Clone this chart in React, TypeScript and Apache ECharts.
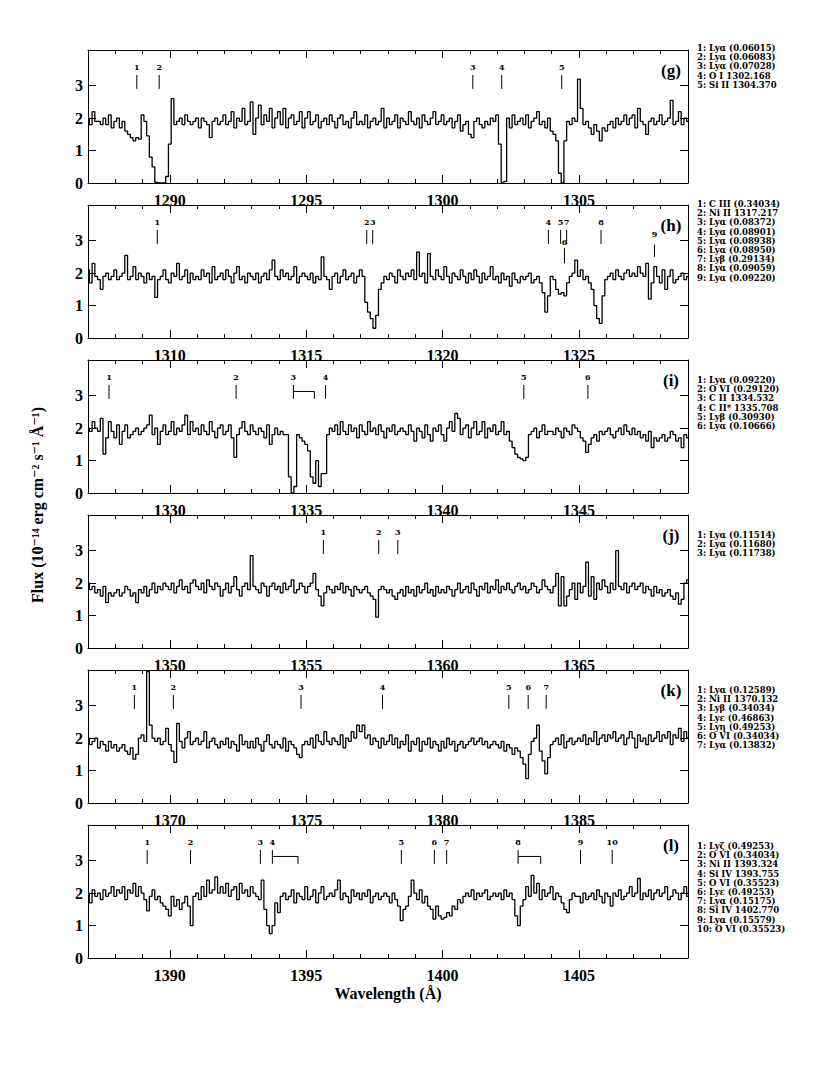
import React, { useEffect, useRef } from 'react';
import * as echarts from 'echarts';

// ---------------- DATA ----------------
const FLUX_START = 1287.0;
const FLUX_STEP = 0.1;
const PANEL_STARTS = [1287, 1307, 1327, 1347, 1367, 1387];
const PANEL_SPAN = 22;
const PANEL_TAGS = ['(g)', '(h)', '(i)', '(j)', '(k)', '(l)'];
const Y_TICKS = [0, 1, 2, 3];

// flux, 1287.0 - 1306.9 A
const FLUX_G = [
  2.0,1.8,2.2,1.9,1.9,1.8,2.0,1.8,2.1,1.7,
  1.9,2.0,1.7,1.9,1.6,1.5,1.4,1.3,1.4,1.35,
  2.1,1.9,1.45,0.8,0.5,0.02,0,0,0,0.2,
  1.2,2.6,1.8,1.9,2.0,1.8,2.1,1.9,1.8,1.9,
  2.0,1.7,2.0,1.9,1.8,1.4,1.9,2.0,1.8,1.9,
  2.1,1.8,1.9,2.2,1.7,2.0,1.9,2.3,1.8,1.9,
  2.5,1.5,2.0,2.4,1.8,2.1,1.9,2.3,1.7,2.0,
  2.2,1.8,2.3,1.7,2.0,2.1,1.8,1.9,2.2,1.7,
  2.0,2.2,1.8,1.9,2.1,1.7,1.9,2.0,1.8,2.1,
  1.9,1.7,2.0,2.1,1.8,1.9,1.7,2.0,2.2,1.8,
  1.9,1.8,2.1,1.7,1.9,2.0,1.8,1.9,2.3,1.7,
  2.0,1.8,1.9,2.1,1.7,2.0,1.9,1.8,2.2,1.9,
  1.8,2.0,1.7,2.1,1.9,1.8,2.0,2.2,1.8,1.9,
  2.1,1.8,1.9,2.0,1.7,1.9,2.1,1.6,1.8,1.9,
  1.5,1.4,1.9,2.0,1.8,1.7,1.9,1.8,2.0,1.9,
  2.1,1.2,0,0.05,2.0,1.7,2.1,1.8,1.9,2.0,
  1.8,2.1,1.7,1.9,2.0,2.2,1.8,1.9,1.7,2.0,
  1.6,1.5,1.3,0.3,0,1.3,1.9,1.8,2.0,1.9,
  3.2,2.3,1.8,1.9,1.7,1.5,1.8,1.6,1.3,1.7,
  1.6,1.8,1.9,1.7,2.0,1.8,1.9,2.1,1.8,2.0,
];
// flux, 1307.0 - 1326.9 A
const FLUX_H = [
  2.1,1.7,2.3,1.9,1.8,1.5,1.9,2.0,1.8,1.9,
  2.1,1.8,1.9,2.0,2.55,1.8,1.9,2.2,1.8,2.0,
  1.9,1.7,2.0,1.8,1.9,1.25,1.8,1.9,2.1,1.8,
  1.7,2.0,1.9,2.3,1.8,1.9,2.1,1.7,2.0,1.8,
  1.9,1.8,2.1,1.9,2.0,1.7,2.2,1.8,1.9,2.0,
  1.8,2.1,1.9,1.7,2.0,2.2,1.8,1.9,1.7,2.0,
  1.9,1.8,2.0,1.7,1.9,2.0,1.8,2.1,2.4,1.9,
  1.8,2.1,1.9,2.0,1.8,1.9,2.2,1.7,1.9,2.0,
  1.9,1.8,2.0,1.7,1.9,1.8,2.5,1.9,1.8,1.5,
  1.9,2.0,1.7,1.9,2.1,1.8,1.9,2.0,1.7,1.9,
  2.1,1.9,1.1,0.8,0.6,0.3,0.7,1.5,1.7,1.9,
  1.8,2.0,1.9,1.7,2.1,1.9,1.8,2.0,1.9,2.1,
  1.8,2.65,1.9,2.0,1.7,2.6,1.9,1.8,2.1,1.9,
  1.8,2.2,1.9,1.7,2.0,1.9,1.8,2.1,1.9,1.7,
  2.0,1.8,2.1,1.9,1.7,2.0,1.8,1.9,2.2,1.8,
  1.9,1.7,2.0,1.8,1.9,1.6,2.0,1.8,1.7,1.9,
  1.8,1.9,2.0,1.7,1.8,1.9,1.7,1.4,0.8,1.3,
  1.9,1.8,1.5,1.35,1.4,1.3,1.7,1.9,2.0,2.4,
  1.9,2.1,1.8,1.9,1.7,1.5,1.0,0.6,0.45,1.3,
  1.8,1.9,2.0,1.8,2.1,1.9,1.8,2.0,2.1,1.9,
];
// flux, 1327.0 - 1346.9 A
const FLUX_I = [
  2.0,1.9,2.2,2.0,1.9,2.3,1.2,1.7,2.2,1.9,
  1.7,2.1,1.5,1.9,2.1,1.7,1.8,1.9,2.0,1.8,
  1.9,2.0,2.1,2.4,1.8,2.0,1.5,1.9,2.1,1.8,
  1.9,2.2,1.8,2.0,1.9,2.1,2.4,1.8,2.2,1.9,
  2.0,1.8,2.1,1.9,1.8,2.2,1.9,1.7,2.0,2.1,
  1.8,1.9,2.1,1.7,1.1,1.8,2.0,2.2,1.9,1.8,
  2.1,1.9,1.8,2.0,1.9,1.7,2.1,1.5,1.8,2.0,
  1.8,1.9,1.8,1.8,0.5,0,0.2,1.8,1.7,1.6,
  1.5,1.3,0.5,0.3,1.0,0.2,0.6,0.6,1.8,2.0,
  1.9,2.1,1.8,2.2,1.9,1.8,2.1,1.9,2.0,1.7,
  2.1,1.9,1.8,2.2,1.9,2.0,1.8,2.1,1.9,1.7,
  2.0,1.9,2.1,1.8,1.9,2.0,1.9,1.8,2.1,1.9,
  1.6,2.0,1.9,1.7,2.1,1.8,1.6,2.0,1.9,2.1,
  1.8,1.6,2.0,2.2,1.9,2.45,2.3,1.8,2.0,2.1,
  1.7,2.0,2.2,1.8,1.9,2.2,1.7,2.0,1.9,2.1,
  1.8,1.9,2.2,1.8,1.9,1.6,1.4,1.2,1.1,1.05,
  1.0,1.1,1.8,1.9,2.0,1.7,1.9,2.1,1.8,1.9,
  1.9,1.8,2.0,1.9,1.7,2.0,1.9,1.8,2.1,2.0,
  1.9,1.7,1.6,1.25,1.5,1.7,1.8,1.6,1.9,1.8,
  1.9,2.0,1.8,1.7,1.9,2.0,1.8,2.1,1.9,1.8,
];
// flux, 1347.0 - 1366.9 A
const FLUX_J = [
  2.0,1.8,1.9,1.7,1.8,1.6,1.9,1.4,1.7,1.6,
  1.7,1.8,1.6,1.7,1.9,1.8,1.6,1.7,1.4,1.8,
  1.7,1.9,1.6,1.8,2.0,1.7,1.9,1.8,2.0,1.9,
  1.8,2.0,1.7,1.9,2.1,1.8,1.9,1.7,2.0,2.1,
  1.9,1.8,2.0,1.7,2.1,1.9,1.8,2.0,1.9,1.6,
  1.8,2.0,1.7,1.9,2.2,1.8,1.6,1.9,2.0,1.8,
  2.85,1.9,1.8,1.7,2.0,1.9,1.6,1.9,2.0,1.8,
  1.9,1.7,2.0,1.8,1.9,2.1,1.7,1.8,2.0,1.9,
  1.7,1.9,2.0,2.3,1.8,1.6,1.3,1.7,1.9,1.8,
  1.7,1.9,1.8,2.0,1.7,1.9,1.8,1.6,1.9,1.8,
  1.7,1.8,1.9,1.7,1.6,1.5,0.95,1.8,1.9,1.8,
  1.7,1.8,1.6,1.5,1.7,1.8,1.6,1.9,1.7,1.8,
  1.6,1.9,1.7,1.8,2.0,1.7,1.8,1.6,1.9,1.7,
  1.8,1.7,1.9,1.8,1.6,1.8,2.0,1.7,1.8,1.9,
  1.7,2.0,1.8,1.6,1.9,1.8,2.0,1.7,1.9,1.8,
  2.1,1.7,1.9,1.8,2.0,1.8,1.7,1.9,2.0,1.8,
  1.9,1.7,1.8,2.0,1.9,1.7,1.8,2.1,1.9,1.8,
  1.7,1.9,2.3,1.3,2.2,1.3,1.6,1.8,2.0,1.5,
  2.0,1.7,1.9,2.65,1.6,2.2,1.5,2.0,1.8,2.1,
  1.9,1.7,2.0,1.8,3.0,1.9,1.8,2.0,1.7,1.9,
];
// flux, 1367.0 - 1386.9 A
const FLUX_K = [
  2.0,1.8,1.9,2.0,1.7,1.9,1.8,1.6,1.9,1.7,
  1.8,1.6,1.7,1.8,1.6,1.5,1.7,1.35,1.5,2.0,
  2.1,1.9,4.05,2.4,2.0,1.9,2.0,1.8,1.9,2.3,
  1.8,1.6,1.25,2.45,1.9,1.7,2.0,2.2,1.8,1.9,
  2.0,1.8,1.9,2.2,1.7,1.9,2.0,1.8,1.7,1.9,
  1.8,2.0,1.7,1.9,1.8,1.6,2.1,1.8,1.9,1.7,
  1.9,1.7,2.0,1.8,1.6,1.9,2.1,1.8,1.7,1.9,
  1.8,1.7,2.0,1.6,1.9,1.8,1.7,1.5,1.4,1.8,
  1.9,1.8,2.0,1.7,2.1,1.9,1.8,2.2,1.9,1.8,
  2.0,1.9,1.8,2.1,1.7,2.0,1.9,2.2,2.0,2.4,
  2.2,2.4,2.0,2.1,1.8,2.0,1.9,1.7,2.0,1.8,
  1.9,2.1,1.8,2.0,1.7,1.9,1.8,2.1,1.6,1.9,
  1.8,2.0,1.6,1.9,1.8,2.0,1.7,1.9,1.8,1.6,
  1.9,1.7,2.0,1.8,1.9,1.6,1.8,1.9,1.7,1.8,
  1.9,2.0,1.8,1.9,2.0,1.8,1.9,1.7,1.8,1.9,
  1.8,1.7,1.9,1.6,1.8,1.7,1.5,1.7,1.6,1.4,
  1.2,0.75,1.5,1.9,2.0,2.4,1.6,1.3,0.9,1.4,
  1.8,1.9,2.0,1.8,2.1,1.7,1.9,2.0,1.8,1.9,
  2.0,1.9,2.1,1.8,2.0,1.9,2.2,1.8,2.0,2.1,
  1.9,2.1,2.0,2.2,1.9,2.0,2.1,1.8,2.0,2.2,
];
// flux, 1387.0 - 1409.0 A
const FLUX_L = [
  2.0,1.7,2.1,1.9,2.0,1.8,2.1,1.9,2.0,2.2,
  1.9,2.1,2.0,2.2,1.8,2.1,2.0,2.3,1.9,2.2,
  2.0,1.8,1.45,1.9,2.1,1.8,1.9,1.7,1.6,1.5,
  1.3,1.9,1.6,1.8,1.5,1.7,1.9,1.6,1.0,1.9,
  2.0,1.8,2.2,1.9,2.4,2.0,2.1,2.5,2.0,2.2,
  2.0,2.3,1.9,2.1,2.2,1.8,2.3,2.0,2.1,1.9,
  2.2,2.0,1.9,1.8,2.4,1.5,1.0,0.75,1.0,1.7,
  1.4,1.9,2.0,1.8,1.9,2.1,1.7,2.0,1.9,1.8,
  2.2,1.8,1.9,2.1,1.7,2.0,2.2,1.8,1.9,2.0,
  1.9,2.1,2.4,1.8,2.0,1.9,1.7,2.1,1.9,2.0,
  1.8,2.0,1.9,2.1,1.7,1.9,2.0,1.8,1.9,2.0,
  1.9,1.7,2.0,1.8,1.6,1.15,1.5,1.6,1.9,2.4,
  2.0,1.8,2.1,1.7,1.9,1.6,1.5,1.2,1.6,1.3,
  1.2,1.25,1.4,1.3,1.6,1.5,1.8,1.7,1.9,2.0,
  1.9,2.1,1.8,2.0,1.9,2.0,2.1,1.8,1.9,2.0,
  1.9,2.0,1.8,2.1,1.9,2.0,1.8,1.3,1.0,1.6,
  1.8,2.2,1.9,2.55,2.0,2.3,1.8,2.1,1.9,2.0,
  2.2,1.8,2.0,1.9,1.7,1.5,1.4,1.8,2.0,1.9,
  1.9,1.7,2.0,1.8,1.9,2.0,1.8,2.1,1.9,1.7,
  2.0,1.9,1.6,2.0,1.9,2.1,1.8,1.9,2.0,2.2,
  1.9,2.0,2.45,1.8,2.0,1.9,2.1,1.8,2.0,2.1,
  1.9,2.0,2.2,1.8,1.9,2.1,2.0,1.8,2.0,2.2,
  1.9,
];

// line identifications: wavelength, label, optional bracket end, optional placement
type Marker = { w: number; n: string; to?: number; pos?: 'low' | 'mid' };
const MARKERS_G: Marker[] = [
  { w: 1288.79, n: '1' }, { w: 1289.61, n: '2' }, { w: 1301.11, n: '3' },
  { w: 1302.17, n: '4' }, { w: 1304.37, n: '5' },
];
const MARKERS_H: Marker[] = [
  { w: 1309.54, n: '1' }, { w: 1317.22, n: '2' }, { w: 1317.44, n: '3' },
  { w: 1323.88, n: '4' }, { w: 1324.33, n: '5' }, { w: 1324.47, n: '6', pos: 'low' },
  { w: 1324.55, n: '7' }, { w: 1325.81, n: '8' }, { w: 1327.77, n: '9', pos: 'mid' },
];
const MARKERS_I: Marker[] = [
  { w: 1327.77, n: '1' }, { w: 1332.43, n: '2' }, { w: 1334.53, n: '3', to: 1335.3 },
  { w: 1335.71, n: '4' }, { w: 1342.98, n: '5' }, { w: 1345.33, n: '6' },
];
const MARKERS_J: Marker[] = [
  { w: 1355.63, n: '1' }, { w: 1357.66, n: '2' }, { w: 1358.36, n: '3' },
];
const MARKERS_K: Marker[] = [
  { w: 1368.70, n: '1' }, { w: 1370.13, n: '2' }, { w: 1374.81, n: '3' },
  { w: 1377.80, n: '4' }, { w: 1382.43, n: '5' }, { w: 1383.14, n: '6' },
  { w: 1383.80, n: '7' },
];
const MARKERS_L: Marker[] = [
  { w: 1389.17, n: '1' }, { w: 1390.76, n: '2' }, { w: 1393.32, n: '3' },
  { w: 1393.76, n: '4', to: 1394.7 }, { w: 1398.49, n: '5' }, { w: 1399.70, n: '6' },
  { w: 1400.15, n: '7' }, { w: 1402.77, n: '8', to: 1403.6 }, { w: 1405.06, n: '9' },
  { w: 1406.22, n: '10' },
];

const LEGEND_G = ['1: Lyα (0.06015)', '2: Lyα (0.06083)', '3: Lyα (0.07028)', '4: O I 1302.168', '5: Si II 1304.370'];
const LEGEND_H = ['1: C III (0.34034)', '2: Ni II 1317.217', '3: Lyα (0.08372)', '4: Lyα (0.08901)', '5: Lyα (0.08938)', '6: Lyα (0.08950)', '7: Lyβ (0.29134)', '8: Lyα (0.09059)', '9: Lyα (0.09220)'];
const LEGEND_I = ['1: Lyα (0.09220)', '2: O VI (0.29120)', '3: C II 1334.532', '4: C II* 1335.708', '5: Lyβ (0.30930)', '6: Lyα (0.10666)'];
const LEGEND_J = ['1: Lyα (0.11514)', '2: Lyα (0.11680)', '3: Lyα (0.11738)'];
const LEGEND_K = ['1: Lyα (0.12589)', '2: Ni II 1370.132', '3: Lyβ (0.34034)', '4: Lyε (0.46863)', '5: Lyη (0.49253)', '6: O VI (0.34034)', '7: Lyα (0.13832)'];
const LEGEND_L = ['1: Lyζ (0.49253)', '2: O VI (0.34034)', '3: Ni II 1393.324', '4: Si IV 1393.755', '5: O VI (0.35523)', '6: Lyε (0.49253)', '7: Lyα (0.15175)', '8: Si IV 1402.770', '9: Lyα (0.15579)', '10: O VI (0.35523)'];

const MARKERS = [MARKERS_G, MARKERS_H, MARKERS_I, MARKERS_J, MARKERS_K, MARKERS_L];
const LEGENDS = [LEGEND_G, LEGEND_H, LEGEND_I, LEGEND_J, LEGEND_K, LEGEND_L];

// ---------------- LAYOUT ----------------
const W = 830;
const H = 1067;
const GRID_LEFT = 88;
const GRID_WIDTH = 600;
const GRID_TOP0 = 50;
const GRID_PITCH = 155;
const GRID_HEIGHT = 133;
const Y_MAX = 4.1;
const LEGEND_TOPS = [48, 204, 380, 535, 690, 846];
const LEGEND_LINE = 9.2;
const SERIF = '"Liberation Serif", "DejaVu Serif", serif';
const SMALL = '"DejaVu Serif", serif';

function buildOption() {
  const ALL = [...FLUX_G, ...FLUX_H, ...FLUX_I, ...FLUX_J, ...FLUX_K, ...FLUX_L];
  const grid: any[] = [];
  const xAxis: any[] = [];
  const yAxis: any[] = [];
  const series: any[] = [];
  const graphic: any[] = [];
  const black = '#000';

  PANEL_STARTS.forEach((s, k) => {
    const top = GRID_TOP0 + GRID_PITCH * k;
    grid.push({ left: GRID_LEFT, width: GRID_WIDTH, top, height: GRID_HEIGHT });
    const min = s;
    const max = s + PANEL_SPAN;
    const majors: number[] = [];
    for (let v = Math.ceil(min / 5) * 5; v <= max; v += 5) majors.push(v);
    const base = { gridIndex: k, type: 'value', min, max, splitLine: { show: false } };
    // bottom minor
    xAxis.push({ ...base, position: 'bottom', interval: 1,
      axisLine: { show: true, onZero: false, lineStyle: { color: black, width: 1 } },
      axisTick: { show: true, inside: true, length: 4, lineStyle: { color: black, width: 1 } },
      axisLabel: { show: false } });
    // bottom major + labels
    xAxis.push({ ...base, position: 'bottom',
      axisLine: { show: false, onZero: false },
      axisTick: { show: true, inside: true, length: 8, customValues: majors, lineStyle: { color: black, width: 1 } },
      axisLabel: { show: true, customValues: majors, margin: 9, color: black, fontFamily: SERIF, fontSize: 16, fontWeight: 'bold',
        formatter: (v: number) => String(v) } });
    // top minor
    xAxis.push({ ...base, position: 'top', interval: 1,
      axisLine: { show: true, onZero: false, lineStyle: { color: black, width: 1 } },
      axisTick: { show: true, inside: true, length: 4, lineStyle: { color: black, width: 1 } },
      axisLabel: { show: false } });
    // top major
    xAxis.push({ ...base, position: 'top',
      axisLine: { show: false, onZero: false },
      axisTick: { show: true, inside: true, length: 8, customValues: majors, lineStyle: { color: black, width: 1 } },
      axisLabel: { show: false } });

    const ybase = { gridIndex: k, type: 'value', min: 0, max: Y_MAX, splitLine: { show: false } };
    yAxis.push({ ...ybase, position: 'left',
      axisLine: { show: true, onZero: false, lineStyle: { color: black, width: 1 } },
      axisTick: { show: true, inside: true, length: 8, customValues: Y_TICKS, lineStyle: { color: black, width: 1 } },
      axisLabel: { show: true, customValues: Y_TICKS, margin: 5, color: black, fontFamily: SERIF, fontSize: 16, fontWeight: 'bold' } });
    yAxis.push({ ...ybase, position: 'right',
      axisLine: { show: true, onZero: false, lineStyle: { color: black, width: 1 } },
      axisTick: { show: true, inside: true, length: 8, customValues: Y_TICKS, lineStyle: { color: black, width: 1 } },
      axisLabel: { show: false } });

    // spectrum
    const i0 = Math.round((s - FLUX_START) / FLUX_STEP);
    const n = Math.round(PANEL_SPAN / FLUX_STEP);
    const data: number[][] = [];
    for (let i = i0; i <= i0 + n && i < ALL.length; i++) {
      data.push([Math.round((FLUX_START + i * FLUX_STEP) * 10) / 10, ALL[i]]);
    }
    series.push({
      type: 'line', xAxisIndex: 4 * k, yAxisIndex: 2 * k, data, step: 'middle',
      showSymbol: false, symbol: 'none', clip: true, silent: true,
      lineStyle: { color: black, width: 1.3 },
    });

    // line identification ticks
    const markers = MARKERS[k];
    series.push({
      type: 'custom', xAxisIndex: 4 * k, yAxisIndex: 2 * k, clip: false, silent: true,
      data: markers.map((m) => [m.w, 3]),
      renderItem: (params: any, api: any) => {
        const m = markers[params.dataIndex];
        let lo = 2.9, hi = 3.33, lab = 3.58;
        if (m.pos === 'low') { lo = 2.3; hi = 2.77; lab = 2.95; }
        if (m.pos === 'mid') { lo = 2.5; hi = 2.88; lab = 3.2; }
        const a = api.coord([m.w, lo]);
        const b = api.coord([m.w, hi]);
        const c = api.coord([m.w, lab]);
        const children: any[] = [
          { type: 'line', shape: { x1: a[0], y1: a[1], x2: b[0], y2: b[1] }, style: { stroke: black, lineWidth: 1 } },
          { type: 'text', style: { text: m.n, x: c[0], y: c[1], align: 'center', verticalAlign: 'middle', font: 'bold 8px ' + SMALL, fill: black } },
        ];
        if (m.to !== undefined) {
          const hy = 3.13;
          const p = api.coord([m.w, hy]);
          const q = api.coord([m.to, hy]);
          const r = api.coord([m.to, lo]);
          children.push({ type: 'line', shape: { x1: p[0], y1: p[1], x2: q[0], y2: q[1] }, style: { stroke: black, lineWidth: 1 } });
          children.push({ type: 'line', shape: { x1: q[0], y1: q[1], x2: r[0], y2: r[1] }, style: { stroke: black, lineWidth: 1 } });
        }
        return { type: 'group', children };
      },
    });

    // panel tag
    graphic.push({ type: 'text', x: 671, y: top + 20,
      style: { text: PANEL_TAGS[k], font: 'bold 17px ' + SERIF, fill: black, align: 'center', verticalAlign: 'middle' } });

    // legend list
    LEGENDS[k].forEach((t, j) => {
      graphic.push({ type: 'text', x: 697, y: LEGEND_TOPS[k] + LEGEND_LINE * j,
        style: { text: t, font: 'bold 8.5px ' + SMALL, fill: black, align: 'left', verticalAlign: 'middle' } });
    });
  });

  graphic.push({ type: 'text', x: 388, y: 993,
    style: { text: 'Wavelength (Å)', font: 'bold 16px ' + SERIF, fill: black, align: 'center', verticalAlign: 'middle' } });
  graphic.push({ type: 'text', x: 37, y: 505, rotation: Math.PI / 2,
    style: { text: 'Flux (10⁻¹⁴ erg cm⁻² s⁻¹ Å⁻¹)', font: 'bold 16px ' + SERIF, fill: black, align: 'center', verticalAlign: 'middle' } });

  return {
    animation: false,
    backgroundColor: '#fff',
    grid, xAxis, yAxis, series, graphic,
  };
}

export default function App() {
  const ref = useRef<HTMLDivElement>(null);
  useEffect(() => {
    if (!ref.current) return;
    const chart = echarts.init(ref.current, undefined, { renderer: 'svg' });
    chart.setOption(buildOption() as any);
    return () => chart.dispose();
  }, []);
  return <div ref={ref} style={{ position: 'absolute', left: 0, top: 0, width: W, height: H, background: '#fff' }} />;
}
